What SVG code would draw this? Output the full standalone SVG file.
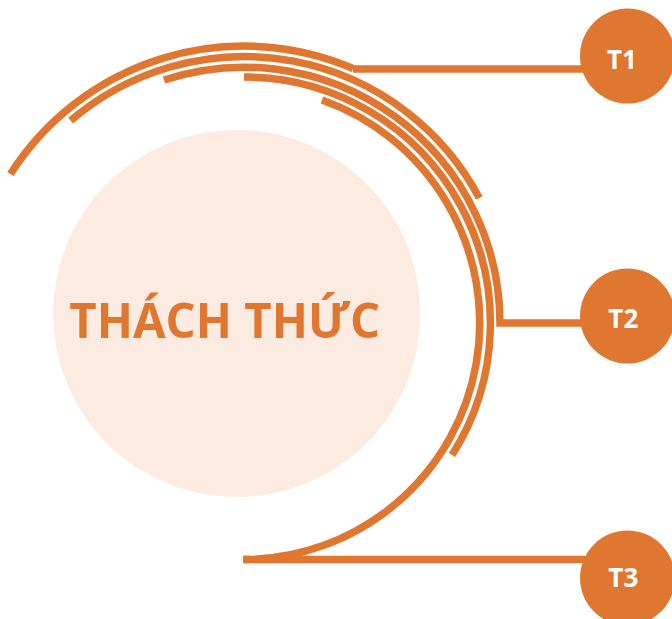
<svg xmlns="http://www.w3.org/2000/svg" width="672" height="619" viewBox="0 0 672 619">
<style>
.band{fill:none;stroke:#E07730;stroke-width:7.5;stroke-linecap:butt;stroke-linejoin:miter}
.node{fill:#E07730}
.lbl{font-family:"Open Sans","Liberation Sans",sans-serif;font-weight:bold;font-size:26px;fill:#FFFFFF;text-anchor:middle}
.title{font-family:"Open Sans","Liberation Sans",sans-serif;font-weight:bold;font-size:49px;fill:#E07730;text-anchor:middle}
</style>
<rect width="672" height="619" fill="#FFFFFF"/>
<g id="center">
<circle cx="236.7" cy="313.5" r="183.5" fill="#FBEBE0"/>
<text class="title" x="224.7" y="338.3" textLength="311" lengthAdjust="spacingAndGlyphs">THÁCH THỨC</text>
</g>
<g id="connectors">
<path class="band" d="M10.5 174 A277 277 0 0 1 353.2 68.5"/>
<path class="band" d="M353 69 L600 69"/>
<path class="band" d="M70.6 120.7 A266.5 266.5 0 0 1 479.3 197.9"/>
<path class="band" d="M164 80 A256 256 0 0 1 500 323 L600 323"/>
<path class="band" d="M244 77 A246 246 0 0 1 452 455"/>
<path class="band" d="M322 100 A236.5 236.5 0 0 1 244 559.5 L600 559.5"/>
<path class="band" d="M243 559.5 L250 559.5"/>
</g>
<g id="T1">
<circle class="node" cx="627.5" cy="56" r="47.5"/>
<text class="lbl" x="622" y="69.3">T1</text>
</g>
<g id="T2">
<circle class="node" cx="627.5" cy="316" r="47.5"/>
<text class="lbl" x="623.3" y="328.3">T2</text>
</g>
<g id="T3">
<circle class="node" cx="627.5" cy="578" r="47.5"/>
<text class="lbl" x="623.3" y="586.7">T3</text>
</g>
</svg>
